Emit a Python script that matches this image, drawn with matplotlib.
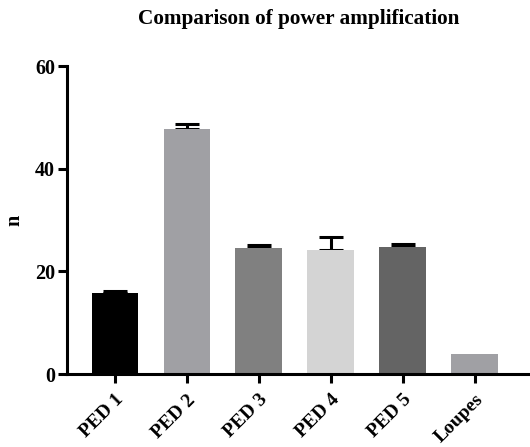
import matplotlib.pyplot as plt
import numpy as np

categories = ["PED 1", "PED 2", "PED 3", "PED 4", "PED 5", "Loupes"]
means = [15.7, 47.7, 24.5, 24.2, 24.7, 3.9]
errors = [0.5, 1.1, 0.6, 2.5, 0.7, 0.0]
colors = ["#000000", "#a0a0a4", "#808080", "#d4d4d4", "#646464", "#a0a0a4"]

plt.rcParams['font.family'] = ['Liberation Serif', 'DejaVu Serif']
plt.rcParams['font.weight'] = 'bold'

fig = plt.figure(figsize=(5.3, 4.47), dpi=100)
ax = fig.add_axes([0.1264, 0.1633, 0.8736, 0.689])

x = np.arange(len(categories))
ax.bar(x, means, width=0.65, color=colors, zorder=2)
# only the upper half of each error bar is drawn
lower = np.zeros(5)
ax.errorbar(x[:5], means[:5], yerr=[lower, errors[:5]], fmt='none',
            ecolor='black', elinewidth=2.2, capsize=8.5, capthick=2.2, zorder=1)

ax.set_xlim(-0.667, 5.77)
ax.set_ylim(0, 60)
ax.set_yticks([0, 20, 40, 60])
ax.set_xticks(x)
ax.set_xticklabels(categories, rotation=45, ha='right', rotation_mode='anchor',
                   fontsize=14, fontweight='bold')
for lab in ax.get_yticklabels():
    lab.set_fontsize(14.5)
    lab.set_fontweight('bold')

ax.spines['top'].set_visible(False)
ax.spines['right'].set_visible(False)
ax.spines['left'].set_linewidth(2.2)
ax.spines['bottom'].set_linewidth(2.2)
ax.tick_params(axis='both', width=2.2, length=6.5, direction='out')
ax.tick_params(axis='x', pad=6)
ax.tick_params(axis='y', pad=2)

ax.set_ylabel("n", fontsize=14.5, fontweight='bold', labelpad=8)
ax.set_title("Comparison of power amplification", fontsize=15.3, fontweight='bold', pad=30)

fig.savefig("out.png", dpi=100)
